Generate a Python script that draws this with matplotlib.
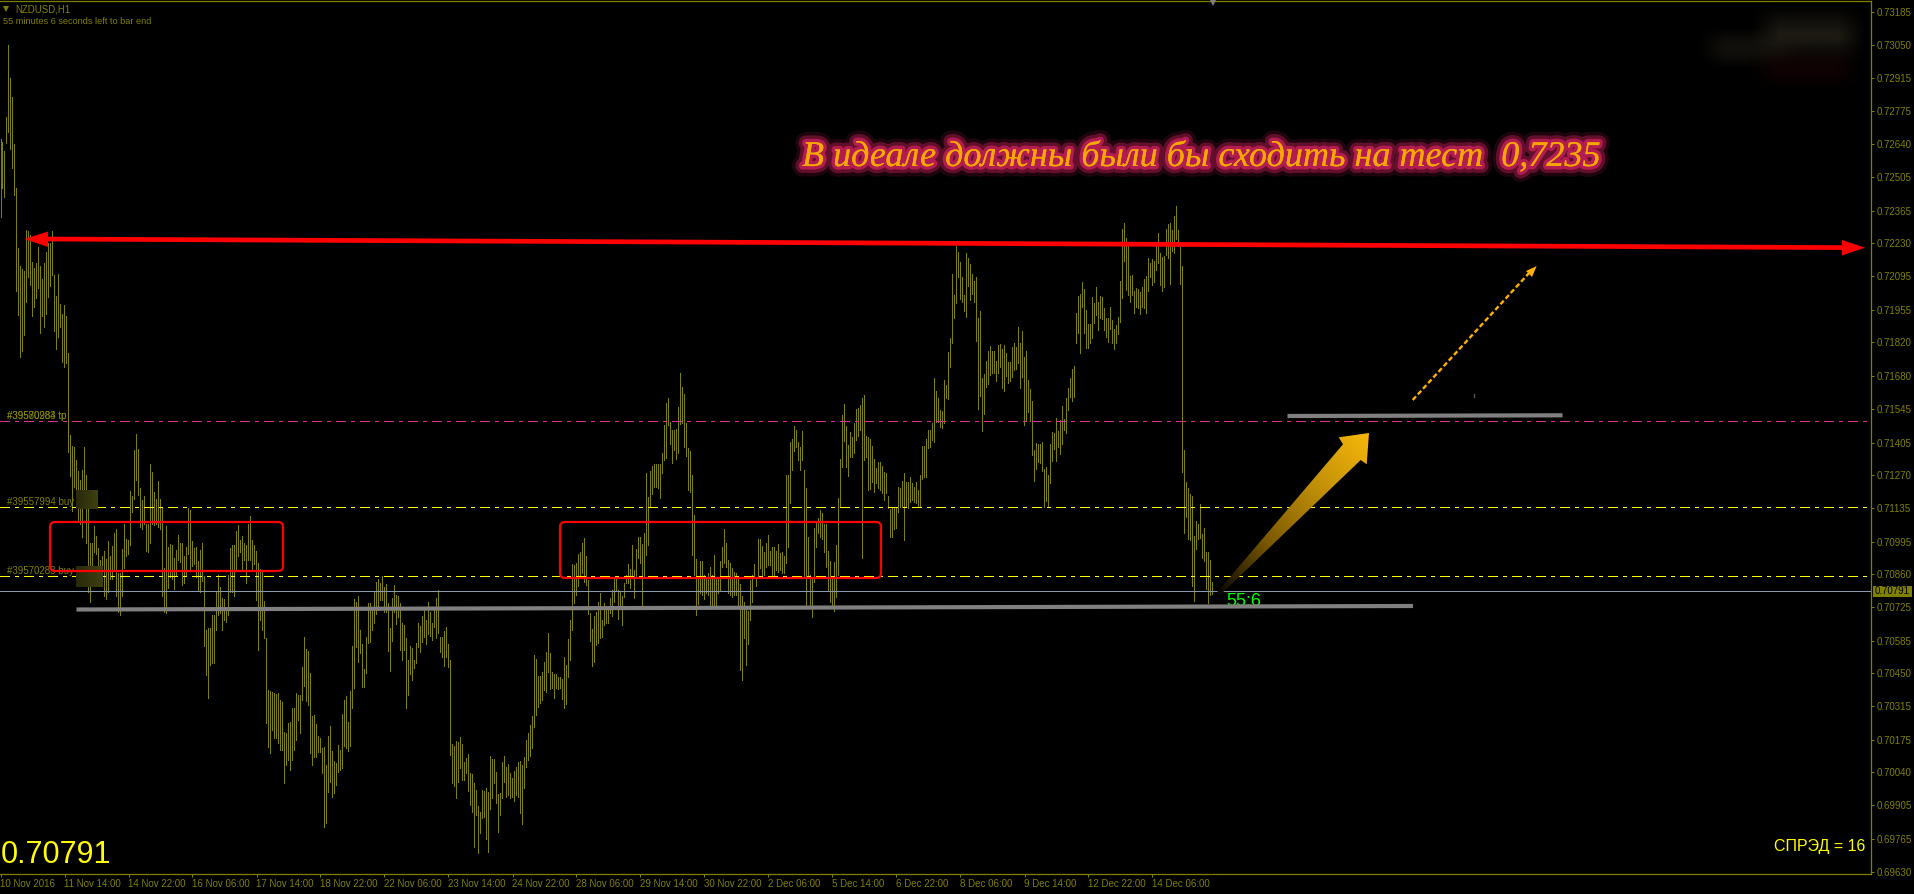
import numpy as np
import matplotlib
matplotlib.use('Agg')
import matplotlib.pyplot as plt
import matplotlib.patheffects as pe
from matplotlib.colors import LinearSegmentedColormap
from matplotlib.patches import FancyBboxPatch, Polygon

# prices in points (1e-5), one high and one low per H1 bar
bar_highs = [
    72661,72648,72610,72751,73052,72914,72833,72640,72458,72210,
    72135,72123,72115,72284,72281,72265,72153,72127,72146,72214,
    72134,72080,72146,72194,72230,72232,72281,72099,72012,72102,
    71979,71937,71975,71930,71774,71437,71390,71387,71331,71288,
    71252,71292,71387,71271,71133,70988,70988,71059,71019,70967,
    70920,70935,70956,70924,70999,70935,70978,71030,71048,70864,
    70864,70964,71070,71007,71003,71204,71184,71374,71439,71379,
    71217,71168,71184,71070,71070,71315,71284,71201,71173,71244,
    71171,71133,70888,71060,70975,70986,70983,70927,70959,71022,
    70988,70988,70935,70975,71133,71125,70999,70967,70972,70915,
    70959,70991,70851,70630,70636,70636,70690,70693,70785,70856,
    70809,70761,70758,70722,70856,70967,70983,70983,71041,71062,
    71003,71019,70988,70983,71070,71102,71003,70983,70956,70907,
    70880,70872,70750,70595,70381,70378,70374,70367,70365,70367,
    70340,70333,70209,70202,70243,70250,70305,70305,70367,70361,
    70361,70478,70602,70551,70543,70453,70274,70278,70241,70191,
    70181,70140,70147,70071,70191,70232,70130,70087,70081,70154,
    70133,70282,70340,70356,70250,70378,70563,70758,70747,70770,
    70629,70570,70467,70602,70743,70740,70712,70788,70829,70840,
    70823,70853,70809,70820,70743,70639,70763,70816,70774,70770,
    70740,70657,70650,70598,70505,70565,70554,70505,70574,70657,
    70647,70687,70719,70671,70747,70703,70657,70712,70760,70795,
    70602,70602,70627,70643,70572,70505,70158,70150,70170,70167,
    70188,70156,70083,70101,70116,70036,70034,69998,69968,69901,
    69878,69968,69963,69976,69961,70108,70097,70094,70043,69951,
    69954,70082,70108,70064,70074,70036,70016,70046,70061,70085,
    70089,70071,70103,70174,70202,70235,70274,70526,70509,70441,
    70441,70457,70498,70537,70616,70533,70457,70446,70446,70434,
    70436,70425,70519,70485,70592,70671,70902,70898,70908,70944,
    70954,70988,71009,70936,70836,70698,70634,70687,70705,70747,
    70781,70671,70740,70719,70719,70763,70795,70850,70850,70795,
    70791,70770,70822,70857,70901,70882,70981,70877,70963,71013,
    71015,70985,71029,71281,71181,71286,71308,71316,71316,71316,
    71316,71360,71477,71570,71588,71491,71457,71457,71463,71553,
    71691,71633,71608,71484,71381,71370,71270,71105,70923,70854,
    70915,70915,70859,70850,70864,70891,70859,70939,70850,70843,
    70916,70974,71047,70991,70919,70905,70884,70871,70864,70843,
    70819,70770,70746,70726,70708,70836,70857,70901,70850,71008,
    71008,70977,70953,70991,71022,70957,70971,70974,70957,70985,
    70950,70953,70935,71270,71270,71406,71418,71475,71457,71406,
    71388,71452,71291,71215,71015,70857,70850,71053,71071,71091,
    71126,71112,71068,71068,70957,70915,70843,70912,70981,71174,
    71337,71519,71564,71475,71395,71447,71426,71487,71543,71546,
    71559,71588,71601,71432,71426,71419,71390,71339,71298,71323,
    71323,71308,71284,71281,71184,71131,71137,71137,71137,71222,
    71219,71246,71280,71243,71243,71261,71239,71223,71242,71209,
    71271,71391,71391,71420,71457,71457,71487,71671,71618,71588,
    71540,71537,71664,71643,71780,71838,72102,72014,72218,72193,
    72152,72089,72014,72188,72169,72144,72102,72075,72089,71919,
    71949,71671,71689,71741,71783,71805,71785,71783,71741,71809,
    71813,71791,71807,71776,71738,71738,71799,71816,71799,71882,
    71816,71867,71759,71783,71664,71625,71576,71374,71403,71398,
    71399,71407,71296,71303,71271,71399,71450,71445,71507,71454,
    71498,71556,71501,71588,71630,71671,71709,71722,71940,72011,
    72020,72068,72042,71954,71894,71894,72006,71981,72050,71988,
    72011,72006,71960,71922,71919,71965,71912,71874,71892,71926,
    72072,72287,72312,72250,72229,72094,72098,72031,72045,72042,
    72028,72047,72080,72094,72167,72149,72163,72158,72222,72271,
    72188,72174,72177,72287,72309,72312,72285,72342,72384,72285,
    72216,72136,71374,71241,71216,71192,71184,71019,71082,71068,
    71151,71027,71050,70952,70952,70919,70830,
]
bar_lows = [
    72339,72460,72423,72645,72689,72621,72542,72428,72032,71934,
    71757,71782,71849,71985,72091,72059,71928,71964,72004,72043,
    71860,71930,71885,71937,72009,72051,72099,71866,71793,71842,
    71884,71738,71719,71735,71366,71268,71121,71220,71212,71078,
    71070,71015,71141,70991,70785,70745,70864,70951,70943,70832,
    70817,70832,70769,70757,70785,70840,70840,70872,70769,70706,
    70693,70769,70888,70935,70943,70983,71117,71173,71252,71189,
    71054,71046,71070,70956,70951,70991,71070,71062,71070,71054,
    71046,70769,70706,70701,70804,70848,70840,70801,70856,70920,
    70912,70814,70825,70856,70943,70880,70896,70904,70848,70790,
    70785,70832,70565,70443,70347,70485,70492,70492,70630,70690,
    70698,70630,70670,70664,70690,70785,70785,70772,70880,70935,
    70951,70883,70920,70825,70920,70920,70880,70904,70754,70547,
    70671,70630,70595,70243,70147,70122,70216,70181,70181,70161,
    70133,70133,69995,70071,70092,70050,70092,70133,70174,70257,
    70202,70340,70398,70337,70319,70119,70071,70105,70105,70126,
    70126,70036,69816,69832,69961,70002,69940,69956,69988,70043,
    70050,70057,70150,70140,70130,70150,70308,70388,70560,70498,
    70536,70392,70392,70453,70574,70578,70629,70657,70694,70712,
    70754,70754,70705,70705,70544,70461,70584,70705,70654,70685,
    70547,70505,70547,70308,70361,70446,70423,70471,70492,70560,
    70540,70581,70602,70572,70613,70605,70588,70643,70595,70618,
    70540,70519,70480,70519,70478,70112,69998,69985,69936,70002,
    70057,70009,70009,70036,69965,69905,69878,69733,69864,69706,
    69788,69853,69854,69763,69712,69888,69933,69995,69912,69795,
    69863,69933,70002,69940,69947,69933,69940,69922,69947,69940,
    69871,69828,69974,70064,70092,70108,70143,70227,70278,70312,
    70326,70340,70381,70374,70457,70384,70388,70347,70388,70384,
    70388,70344,70308,70323,70436,70505,70629,70740,70774,70811,
    70850,70864,70829,70816,70696,70585,70482,70498,70567,70574,
    70595,70602,70650,70657,70657,70698,70687,70746,70795,70677,
    70733,70650,70767,70822,70822,70802,70850,70760,70850,70926,
    70905,70726,70850,70939,70981,71142,71192,71222,71222,71215,
    71174,71280,71332,71343,71477,71401,71321,71374,71339,71363,
    71481,71484,71388,71350,71208,71201,70939,70857,70691,70737,
    70781,70774,70757,70781,70774,70726,70726,70733,70733,70781,
    70791,70891,70905,70891,70781,70774,70767,70774,70774,70733,
    70464,70422,70595,70484,70571,70671,70746,70843,70811,70843,
    70884,70857,70857,70891,70898,70898,70857,70850,70877,70871,
    70877,70864,70864,70908,70974,71157,71291,71371,71388,71332,
    71291,71332,70850,70726,70853,70726,70684,70829,70974,71029,
    71015,71008,70953,70891,70797,70746,70733,70709,70767,70857,
    71137,71305,71412,71302,71266,71346,71346,71360,71415,71432,
    71457,70928,71332,71346,71208,71211,71243,71201,71236,71215,
    71208,71195,71167,71195,71133,71015,71015,71047,71050,71119,
    71139,71137,71002,71139,71133,71160,71168,71161,71154,71143,
    71143,71256,71264,71264,71381,71388,71416,71409,71492,71492,
    71468,71464,71485,71588,71587,71719,71818,71920,71984,72089,
    72000,71988,71951,71926,72054,71995,72020,71988,71827,71545,
    71599,71454,71523,71636,71647,71685,71694,71692,71661,71694,
    71719,71632,71620,71682,71653,71661,71678,71705,71708,71733,
    71632,71678,71478,71498,71533,71494,71354,71248,71294,71326,
    71319,71287,71140,71163,71143,71239,71330,71377,71330,71388,
    71358,71399,71457,71443,71540,71595,71578,71595,71818,71857,
    71777,71967,71857,71798,71798,71818,71836,71898,71933,71871,
    71919,71915,71871,71840,71823,71874,71818,71792,71818,71854,
    71905,72005,72155,72036,72014,71988,72014,71943,71965,71960,
    71937,71965,71960,71943,72034,72089,72057,72071,72119,72147,
    72057,72034,72047,72181,72167,72061,72199,72191,72246,72218,
    72061,71285,71032,71096,71006,71000,70812,70751,70965,71006,
    71009,70926,70917,70799,70743,70775,70779,
]

x_tick_labels = ['10 Nov 2016', '11 Nov 14:00', '14 Nov 22:00', '16 Nov 06:00', '17 Nov 14:00',
                 '18 Nov 22:00', '22 Nov 06:00', '23 Nov 14:00', '24 Nov 22:00', '28 Nov 06:00',
                 '29 Nov 14:00', '30 Nov 22:00', '2 Dec 06:00', '5 Dec 14:00', '6 Dec 22:00',
                 '8 Dec 06:00', '9 Dec 14:00', '12 Dec 22:00', '14 Dec 06:00']
y_tick_labels = ['0.73185', '0.73050', '0.72915', '0.72775', '0.72640', '0.72505', '0.72365',
                 '0.72230', '0.72095', '0.71955', '0.71820', '0.71680', '0.71545', '0.71405',
                 '0.71270', '0.71135', '0.70995', '0.70860', '0.70725', '0.70585', '0.70450',
                 '0.70315', '0.70175', '0.70040', '0.69905', '0.69765', '0.69630']
bars_per_label = 32

tp_level = 0.71493
buy_levels = [0.71137, 0.70852]
bid_price = 0.70791

OLIVE = '#808000'
W, H = 1914, 894
DOTDASH = (0, (6.7, 4.1, 2.2, 4.3))

plt.rcParams['font.family'] = ['Liberation Sans', 'DejaVu Sans']
plt.rcParams['lines.scale_dashes'] = False

fig = plt.figure(figsize=(W / 100, H / 100), dpi=100, facecolor='black')
ax = fig.add_axes([0, (H - 874) / H, 1871 / W, 873 / H], facecolor='black')

# one vertical stick per bar, the chart scale is 2 px per bar
x = np.arange(len(bar_highs))
ax.vlines(x, np.array(bar_lows) / 1e5, np.array(bar_highs) / 1e5, colors=OLIVE,
          linewidth=0.72, antialiased=False, zorder=2)

ax.axhline(tp_level, color='#e0308a', lw=0.72, ls=DOTDASH, antialiased=False, zorder=3)
for level in buy_levels:
    ax.axhline(level, color='#ffff00', lw=0.72, ls=DOTDASH, antialiased=False, zorder=3)
ax.axhline(bid_price, color='#8a9aa8', lw=0.72, antialiased=False, zorder=3)

ax.set_xlim(-0.25, 935.25)
ax.set_ylim(0.69620, 0.73232)
ax.set_xticks(np.arange(len(x_tick_labels)) * bars_per_label)
ax.set_xticklabels(x_tick_labels, ha='left')
ax.set_yticks([float(s) for s in y_tick_labels])
ax.set_yticklabels(y_tick_labels)
ax.yaxis.tick_right()
ax.tick_params(axis='both', colors=OLIVE, labelsize=7, length=2.2, width=0.72, pad=1.5)
ax.spines['left'].set_visible(False)
for side in ['top', 'bottom', 'right']:
    ax.spines[side].set_color(OLIVE)
    ax.spines[side].set_linewidth(0.9)

# overlay in pixel coordinates for everything drawn by hand on the chart
ov = fig.add_axes([0, 0, 1, 1], facecolor='none')
ov.axis('off')

# blurred-out corner
def blob(x0, x1, y0, y1, color, edge=14):
    xx = np.arange(x0 - 20, x1 + 20)
    yy = np.arange(y0 - 20, y1 + 20)
    ax_ = np.clip((xx - x0 + edge) / (2 * edge), 0, 1) * np.clip((x1 - xx + edge) / (2 * edge), 0, 1)
    ay_ = np.clip((yy - y0 + edge) / (2 * edge), 0, 1) * np.clip((y1 - yy + edge) / (2 * edge), 0, 1)
    rgba = np.zeros((len(yy), len(xx), 4))
    rgba[..., :3] = matplotlib.colors.to_rgb(color)
    rgba[..., 3] = np.outer(ay_, ax_)
    ov.imshow(rgba, extent=[xx[0], xx[-1], yy[-1], yy[0]], aspect='auto', zorder=1)

blob(1765, 1853, 18, 52, '#1c1a12')
blob(1712, 1790, 40, 56, '#1c1a12')
blob(1762, 1850, 58, 78, '#140404')

# dark order-label blocks
for bx0, bx1, by0, by1 in [(76, 98, 490, 509), (76, 103, 566, 587)]:
    grad = np.linspace(0.16, 0.25, 32).reshape(1, -1)
    block = np.dstack([grad, grad, grad * 0.25])
    ov.imshow(block, extent=[bx0, bx1, by1, by0], aspect='auto', zorder=1.5)

for text_y, label in [(416, '#39580984 tp'), (416, '#39570283 tp'), (502, '#39557994 buy'), (571, '#39570283 buy')]:
    ov.text(7, text_y, label, color=OLIVE, fontsize=7, va='center', ha='left', zorder=2)

# zones
for rx0, rx1, ry0, ry1 in [(50, 283, 522, 571), (560, 881, 522, 578)]:
    ov.add_patch(FancyBboxPatch((rx0, ry0), rx1 - rx0, ry1 - ry0, boxstyle='round,pad=0,rounding_size=5',
                                fill=False, edgecolor='#ff0000', linewidth=1.6, zorder=4))

# resistance line with two arrow heads
ov.plot([46, 1844], [239, 247.6], color='#ff0000', lw=3.4, solid_capstyle='butt', zorder=5)
ov.add_patch(Polygon([(24.5, 239), (48, 231.5), (48, 247)], closed=True, fc='#ff0000', ec='none', zorder=5))
ov.add_patch(Polygon([(1865, 247.7), (1842, 240), (1842, 255.5)], closed=True, fc='#ff0000', ec='none', zorder=5))

# grey support lines
ov.plot([76.5, 1413], [609.5, 606], color='#808080', lw=3, solid_capstyle='butt', zorder=4)
ov.plot([1287.5, 1562.5], [416, 415.3], color='#808080', lw=3, solid_capstyle='butt', zorder=4)
ov.plot([1474, 1474], [393.5, 397], color='#555555', lw=1, zorder=4)

# big gold arrow with gradient fill
gold = LinearSegmentedColormap.from_list('gold', ['#000000', '#7a5800', '#c08f08', '#f7b80a'])
gx, gy = np.meshgrid(np.linspace(0, 1, 200), np.linspace(0, 1, 200))
arrow_fill = ov.imshow((gx + (1 - gy)) / 2, cmap=gold, extent=[1213, 1369, 596, 433], origin='upper',
                       aspect='auto', zorder=6)
arrow_poly = Polygon([(1213, 597), (1343, 444.3), (1338.7, 437.3), (1369, 433), (1366.7, 464.3),
                      (1360.7, 460), (1217, 598)], closed=True, transform=ov.transData, fc='none', ec='none')
ov.add_patch(arrow_poly)
arrow_fill.set_clip_path(arrow_poly)

# thin dashed arrow
ov.plot([1412.7, 1530], [400, 272], color='#ffb000', lw=1.7, ls=(0, (3.5, 2.0)), zorder=6)
ov.add_patch(Polygon([(1536.7, 266), (1526, 271), (1532, 277)], closed=True, fc='#ffb000', ec='none', zorder=6))

# chart text
ov.plot([6], [9], marker='v', color=OLIVE, ms=4, mew=0, zorder=7)
ov.text(15, 9, 'NZDUSD,H1', color=OLIVE, fontsize=7, va='center', ha='left')
ov.text(3, 22, '55 minutes 6 seconds left to bar end', color=OLIVE, fontsize=6.6, va='center', ha='left')
ov.plot([1213], [3], marker='v', color='#808080', ms=5, mew=0, zorder=7)
ov.text(1226, 602, '55:6', color='#00ff00', fontsize=13, va='center', ha='left', zorder=3)
ov.text(1, 855, '0.70791', color='#ffff00', fontsize=22, va='center', ha='left')
ov.text(1865, 846, 'СПРЭД = 16', color='#ffff00', fontsize=11.5, va='center', ha='right')

# bid price tag on the axis
ov.add_patch(plt.Rectangle((1873, 586), 39, 11, fc=OLIVE, ec='none', zorder=7))
ov.text(1892, 591.5, '0.70791', color='black', fontsize=7, va='center', ha='center', zorder=8)

# glowing headline
glow = ov.text(802, 166, 'В идеале должны были бы сходить на тест  0,7235', family='Liberation Serif',
               style='italic', color='#f5a800', fontsize=26, va='baseline', ha='left', zorder=6)
glow.set_path_effects([
    pe.withStroke(linewidth=15, foreground='#c8205a', alpha=0.15),
    pe.withStroke(linewidth=10, foreground='#c8205a', alpha=0.4),
    pe.withStroke(linewidth=5, foreground='#c8205a', alpha=0.8),
    pe.Normal(),
])

ov.set_xlim(0, W)
ov.set_ylim(H, 0)

fig.savefig('out.png', dpi=100, facecolor='black')
